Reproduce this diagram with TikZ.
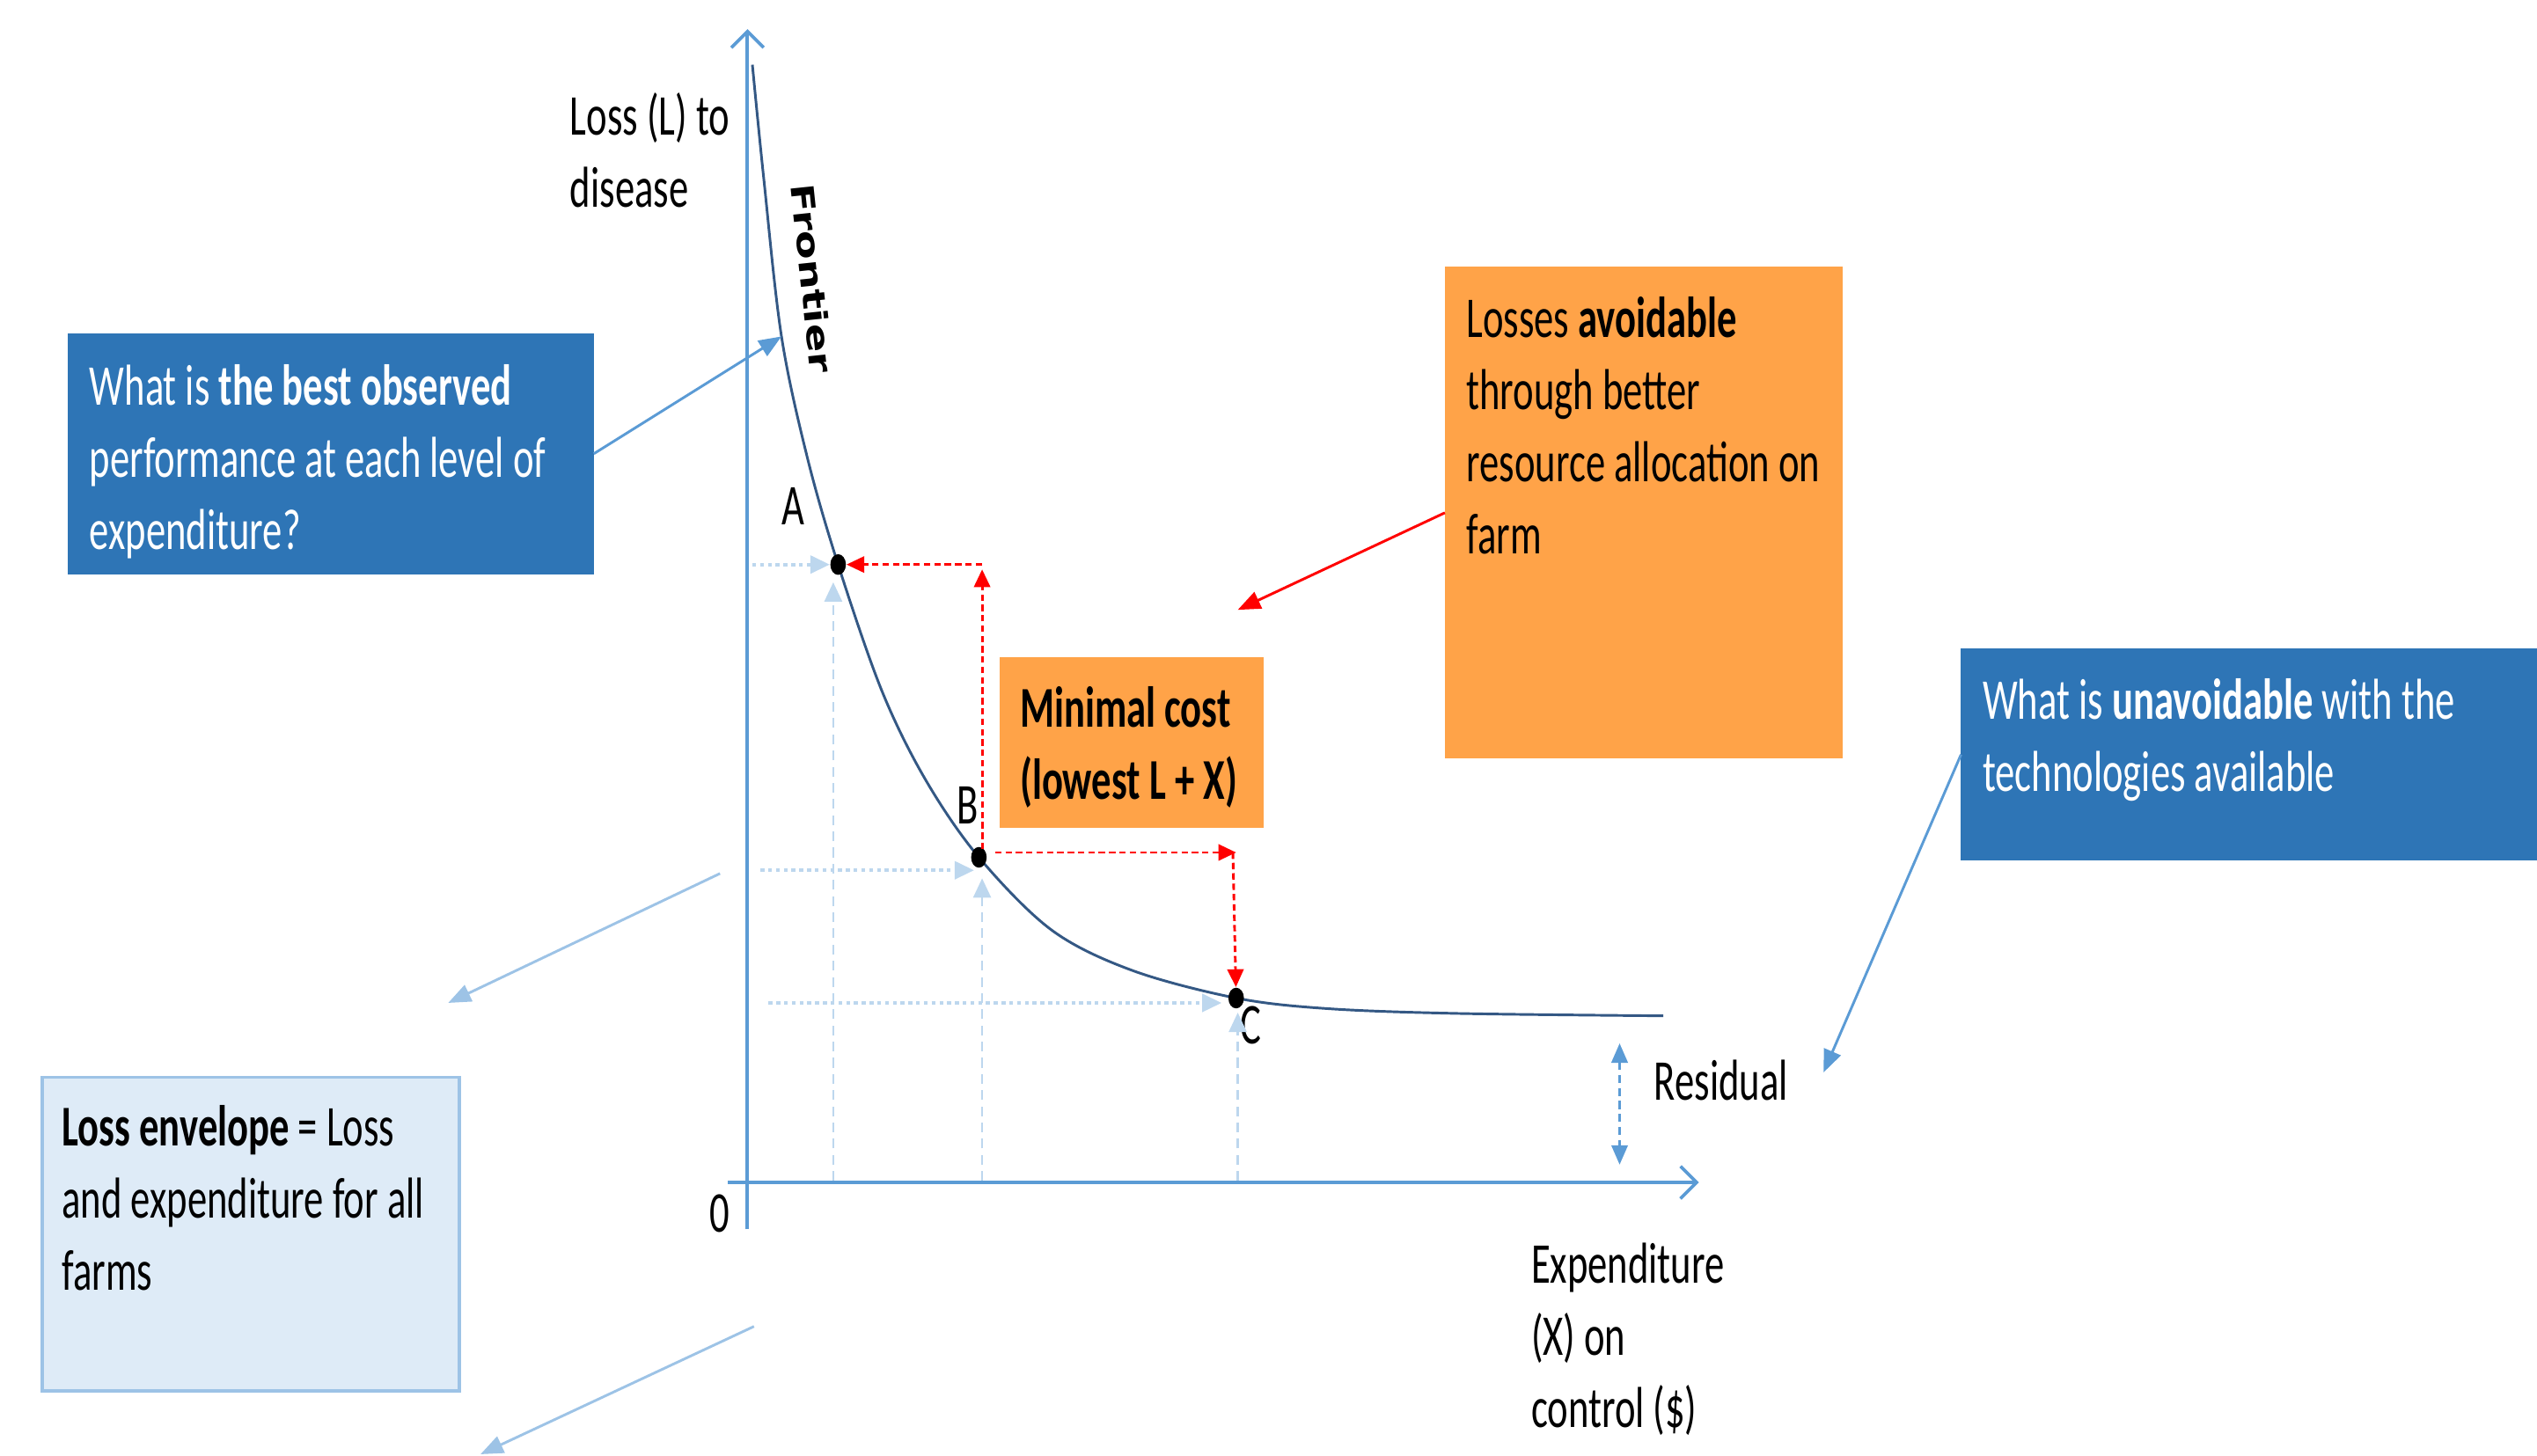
\documentclass[tikz,border=0pt]{standalone}
\usepackage{fontspec}
\setmainfont{Carlito}[FakeStretch=0.68]
\newfontfamily\frontierfont{DejaVu Sans}
\usepackage{xcolor}
\usetikzlibrary{arrows.meta,shapes.geometric}

\definecolor{boxblue}{RGB}{46,117,182}
\definecolor{axisblue}{RGB}{91,155,213}
\definecolor{paleblue}{RGB}{189,215,238}
\definecolor{envfill}{RGB}{222,235,247}
\definecolor{envline}{RGB}{157,195,230}
\definecolor{boxorange}{RGB}{255,163,72}
\definecolor{curvenavy}{RGB}{52,88,132}

\tikzset{
  txt/.style={anchor=north west,inner sep=0pt,align=left,font=\fontsize{17.85pt}{22.3pt}\selectfont},
  lbl/.style={inner sep=0pt,font=\fontsize{17.85pt}{22.3pt}\selectfont},
  panel/.style={anchor=north west,inner sep=0pt,outer sep=0pt},
  dot/.style={ellipse,fill=black,inner sep=0pt,minimum width=4.8pt,minimum height=6.4pt},
  axis/.style={draw=axisblue,line width=1.1pt,-{Straight Barb[length=5pt,width=10pt,line width=1pt]}},
  callout/.style={draw=axisblue,line width=0.8pt,-{Triangle[length=7pt,width=5.5pt]}},
  softcallout/.style={draw=envline,line width=0.8pt,-{Triangle[length=7pt,width=5.5pt]}},
  redarrow/.style={draw=red,line width=0.8pt,dash pattern=on 2pt off 1.2pt,-{Triangle[length=5.5pt,width=5pt]}},
  projh/.style={draw=paleblue,line width=1pt,dash pattern=on 1.2pt off 1.2pt,-{Triangle[length=6pt,width=5.5pt]}},
  projv/.style={draw=paleblue,line width=0.6pt,dash pattern=on 3pt off 2pt,-{Triangle[length=6pt,width=5.5pt]}}
}

\begin{document}
\begin{tikzpicture}[x=0.5pt,y=0.5pt,yscale=-1,xscale=1]
\useasboundingbox (0,0) rectangle (1568,900);

%Axes
\coordinate (yend) at (462,18);
\coordinate (xend) at (1050,731);
\draw[axis] (462,760) -- (yend);
\draw[axis] (450,731) -- (xend);
% Text Node
\node[lbl] (zero) at (445,750) {0};

%Loss frontier
\draw[curvenavy,line width=0.8pt] plot[smooth,tension=0.55] coordinates {(465,40) (472,110) (483,208) (499,283) (518,349) (545,427) (572,482) (605,530) (650,575) (700,600) (764,617) (820,623.5) (900,626.5) (1028,628)};

%Points on the frontier
\node[dot] (A) at (518,349) {};
\node[dot] (B) at (605,530) {};
\node[dot] (C) at (764,617) {};
\node[lbl] (Alab) at (490,313) {A};
\node[lbl] (Blab) at (598,498) {B};
\node[lbl] (Clab) at (773,634) {C};

% Text Node
\node[inner sep=0pt,rotate=-84] (frontier) at (502,172) {\scalebox{1}[0.75]{\frontierfont\bfseries\fontsize{13pt}{15pt}\selectfont Frontier}};

%Projections onto the axes
\coordinate (yA) at (465,349);
\coordinate (xA) at (515,730);
\coordinate (yB) at (470,538);
\coordinate (tB) at (602,538);
\coordinate (xB) at (607,730);
\coordinate (yC) at (475,620);
\coordinate (tC) at (755,620);
\coordinate (xC) at (765,730);
\draw[projh] (yA) -- (A);
\draw[projv] (xA) -- (515,360);
\draw[projh] (yB) -- (tB);
\draw[projv] (xB) -- (607,543);
\draw[projh] (yC) -- (tC);
\draw[projv] (xC) -- (765,626);

%Red moves along the frontier
\coordinate (Bup) at (607,525);
\coordinate (Acorner) at (607,349);
\coordinate (Bright) at (615,527);
\coordinate (Ccorner) at (762,527);
\draw[redarrow] (Bup) -- (607,352);
\draw[redarrow] (Acorner) -- (A);
\draw[redarrow] (Bright) -- (764,527);
\draw[redarrow] (Ccorner) -- (C);

%Residual
\coordinate (restop) at (1001,645);
\coordinate (resbot) at (1001,720);
\draw[draw=axisblue,line width=0.8pt,dash pattern=on 2.5pt off 1.5pt,{Triangle[length=6pt,width=5pt]}-{Triangle[length=6pt,width=5pt]}] (restop) -- (resbot);
\node[txt] (residual) at (1022,655) {Residual};

%Axis titles
\node[txt] (ytitle) at (352,57) {Loss (L) to\\disease};
\node[txt] (xtitle) at (946,768) {Expenditure\\(X) on\\control (\$)};

%Best observed box
\node[panel,fill=boxblue,minimum width=162.5pt,minimum height=74.5pt] (best) at (42,206) {};
\node[txt,text=white] (besttxt) at (55,225) {What is \textbf{the best observed}\\performance at each level of\\expenditure?};
\coordinate (frontpt) at (483,208);
\draw[callout] (best.east) -- (frontpt);

%Avoidable losses box
\node[panel,fill=boxorange,minimum width=123pt,minimum height=152pt] (avoid) at (893,165) {};
\node[txt] (avoidtxt) at (906,183) {Losses \textbf{avoidable}\\through better\\resource allocation on\\farm};
\coordinate (avoidpt) at (765,377);
\draw[draw=red,line width=0.8pt,-{Triangle[length=7pt,width=5.5pt]}] (avoid.west) -- (avoidpt);

%Minimal cost box
\node[panel,fill=boxorange,minimum width=81.5pt,minimum height=53pt] (mincost) at (618,406) {};
\node[txt] (mincosttxt) at (630,424) {\textbf{Minimal cost}\\\textbf{(lowest L + X)}};

%Unavoidable box
\node[panel,fill=boxblue,minimum width=182pt,minimum height=65.5pt] (unavoid) at (1212,401) {};
\node[txt,text=white] (unavoidtxt) at (1225,419) {What is \textbf{unavoidable} with the\\technologies available};
\coordinate (respt) at (1127,663);
\draw[callout] (unavoid.west) -- (respt);

%Loss envelope box
\node[panel,fill=envfill,draw=envline,line width=1pt,minimum width=129pt,minimum height=97pt] (envelope) at (26,666) {};
\node[txt] (envelopetxt) at (38,683) {\textbf{Loss envelope} = Loss\\and expenditure for all\\farms};
\coordinate (envsrc1) at (445,540);
\coordinate (envtip1) at (277,620);
\coordinate (envsrc2) at (466,820);
\coordinate (envtip2) at (297,899);
\draw[softcallout] (envsrc1) -- (envtip1);
\draw[softcallout] (envsrc2) -- (envtip2);
\end{tikzpicture}
\end{document}
